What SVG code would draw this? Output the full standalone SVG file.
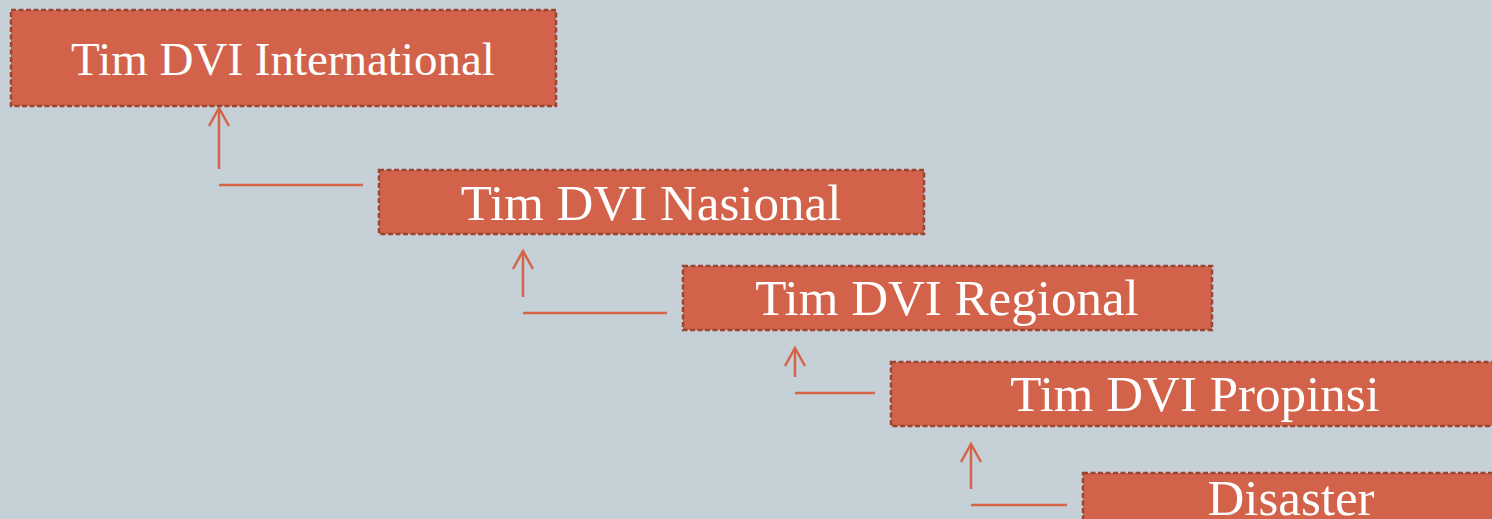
<svg xmlns="http://www.w3.org/2000/svg" width="1492" height="519" viewBox="0 0 1492 519">
<defs>
<style>
.box{fill:#D2634A;stroke:#9C4432;stroke-width:2.5;stroke-dasharray:5 2.5;}
.lbl{font-family:"Liberation Serif","DejaVu Serif",serif;fill:#FFFFFF;text-anchor:middle;font-size:51px;}
.ln{stroke:#D66449;stroke-width:2.5;fill:none;}
</style>
<marker id="arr" markerUnits="userSpaceOnUse" markerWidth="24" markerHeight="24" refX="18" refY="12" orient="auto" viewBox="0 0 24 24" overflow="visible">
<path d="M0,2 L18,12 L0,22" fill="none" stroke="#D66449" stroke-width="2.5"/>
</marker>
</defs>
<rect width="1492" height="519" fill="#C5D1D7"/>
<g id="connectors">
<line class="ln" x1="219" y1="169" x2="219" y2="108" marker-end="url(#arr)"/>
<line class="ln" x1="219" y1="185" x2="363" y2="185"/>
<line class="ln" x1="523" y1="297" x2="523" y2="251" marker-end="url(#arr)"/>
<line class="ln" x1="523" y1="313" x2="667" y2="313"/>
<line class="ln" x1="795" y1="377" x2="795" y2="348" marker-end="url(#arr)"/>
<line class="ln" x1="795" y1="393" x2="875" y2="393"/>
<line class="ln" x1="971" y1="489" x2="971" y2="444" marker-end="url(#arr)"/>
<line class="ln" x1="971" y1="505" x2="1067" y2="505"/>
</g>
<g id="international">
<rect class="box" x="11" y="10" width="545" height="96"/>
<text class="lbl" x="283" y="75" style="font-size:47px">Tim DVI International</text>
</g>
<g id="nasional">
<rect class="box" x="379" y="170" width="545" height="64"/>
<text class="lbl" x="651" y="220">Tim DVI Nasional</text>
</g>
<g id="regional">
<rect class="box" x="683" y="266" width="529" height="64"/>
<text class="lbl" x="947" y="315">Tim DVI Regional</text>
</g>
<g id="propinsi">
<rect class="box" x="891" y="362" width="620" height="64"/>
<text class="lbl" x="1195" y="411">Tim DVI Propinsi</text>
</g>
<g id="disaster">
<rect class="box" x="1083" y="473" width="430" height="70"/>
<text class="lbl" x="1291" y="515">Disaster</text>
</g>
</svg>
